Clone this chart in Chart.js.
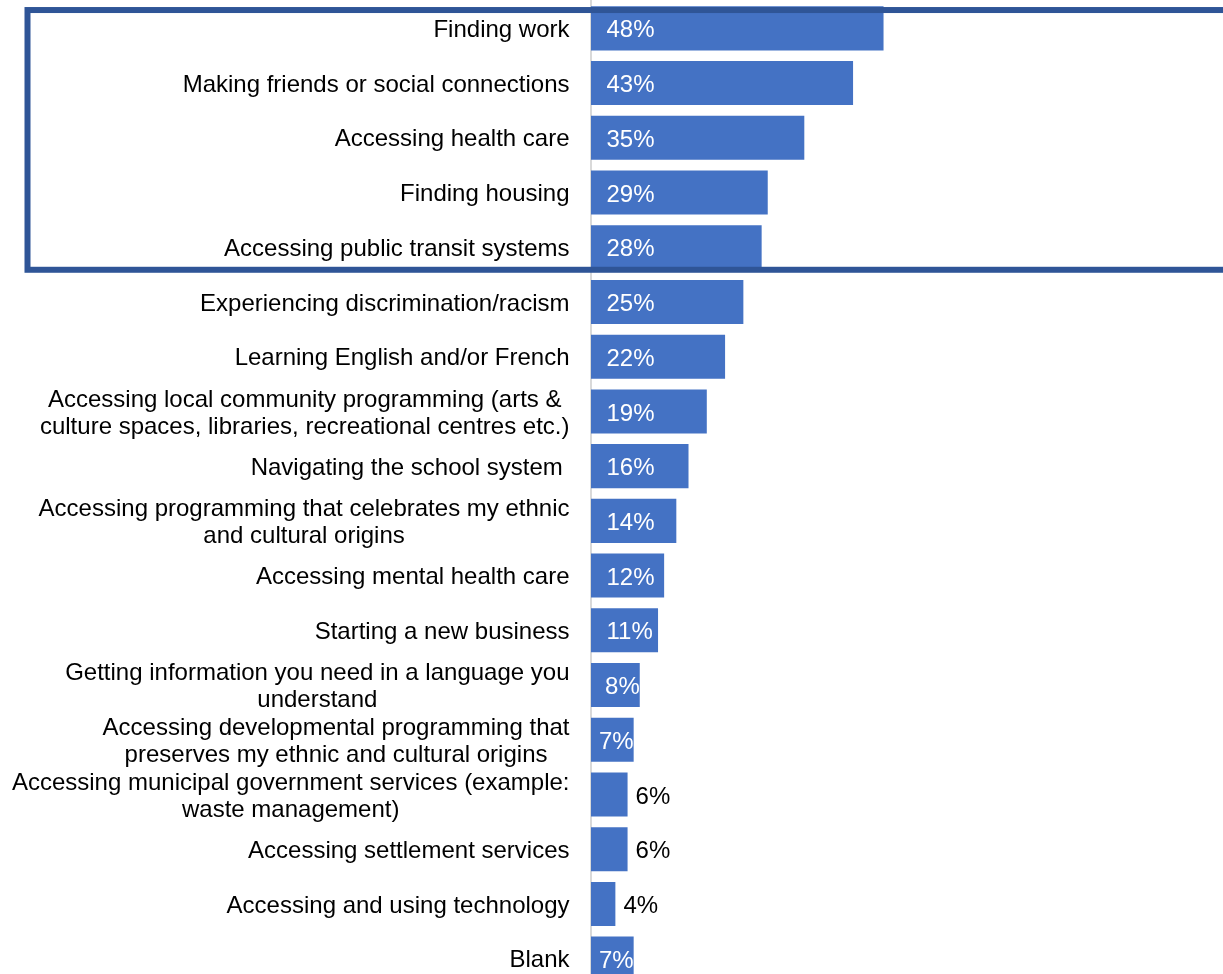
<!DOCTYPE html>
<html>
<head>
<meta charset="utf-8">
<script src="https://cdn.jsdelivr.net/npm/chart.js@4/dist/chart.umd.min.js"></script>
<style>
  html, body { margin: 0; padding: 0; background: #fff; overflow: hidden; }
  #wrap { width: 1223px; height: 986px; }
</style>
</head>
<body>
<div id="wrap"><canvas id="mycanvas"></canvas></div>
<script>
// categories (multi-line labels are arrays of lines)
var categories = [
  "Finding work",
  "Making friends or social connections",
  "Accessing health care",
  "Finding housing",
  "Accessing public transit systems",
  "Experiencing discrimination/racism",
  "Learning English and/or French",
  ["Accessing local community programming (arts &", "culture spaces, libraries, recreational centres etc.)"],
  "Navigating the school system ",
  ["Accessing programming that celebrates my ethnic", "and cultural origins"],
  "Accessing mental health care",
  "Starting a new business",
  ["Getting information you need in a language you", "understand"],
  ["Accessing developmental programming that", "preserves my ethnic and cultural origins"],
  ["Accessing municipal government services (example:", "waste management)"],
  "Accessing settlement services",
  "Accessing and using technology",
  "Blank"
];

// percent of respondents
var percents = [48, 43, 35, 29, 28, 25, 22, 19, 16, 14, 12, 11, 8, 7, 6, 6, 4, 7];

// first five rows get the outline box
var highlightRows = [0, 4];

var FONT = '24px "Liberation Sans", Arial, sans-serif';

// category labels: block right-aligned to the axis, lines centred in the block
var categoryLabels = {
  id: 'categoryLabels',
  afterDraw: function(chart) {
    var ctx = chart.ctx;
    var yScale = chart.scales.y;
    var right = chart.chartArea.left - 21.5;
    var lineH = 27;
    ctx.save();
    ctx.font = FONT;
    ctx.fillStyle = '#000';
    ctx.textBaseline = 'middle';
    ctx.textAlign = 'center';
    categories.forEach(function(label, i) {
      var lines = Array.isArray(label) ? label : [label];
      var widest = 0;
      lines.forEach(function(l) { widest = Math.max(widest, ctx.measureText(l).width); });
      var cx = right - widest / 2;
      var cy = yScale.getPixelForValue(i) + 2;
      var y0 = cy - (lines.length - 1) * lineH / 2;
      lines.forEach(function(l, k) {
        ctx.fillText(l, cx, y0 + k * lineH);
      });
    });
    ctx.restore();
  }
};

// value labels: white inside the bar, black just outside for short bars
var valueLabels = {
  id: 'valueLabels',
  afterDatasetsDraw: function(chart) {
    var ctx = chart.ctx;
    var meta = chart.getDatasetMeta(0);
    ctx.save();
    ctx.font = FONT;
    ctx.textBaseline = 'middle';
    ctx.textAlign = 'left';
    meta.data.forEach(function(bar, i) {
      var v = percents[i];
      var txt = v + '%';
      var w = ctx.measureText(txt).width;
      var x;
      if (v >= 7) {
        ctx.fillStyle = '#fff';
        x = Math.min(bar.base + 15.5, bar.x - w);
      } else {
        ctx.fillStyle = '#000';
        x = bar.x + 8;
      }
      ctx.fillText(txt, x, bar.y + 2.5);
    });
    ctx.restore();
  }
};

// dark outline around the top rows
var highlightBox = {
  id: 'highlightBox',
  afterDraw: function(chart) {
    var ctx = chart.ctx;
    var meta = chart.getDatasetMeta(0);
    var first = meta.data[highlightRows[0]];
    var last = meta.data[highlightRows[1]];
    var top = first.y - first.height / 2 + 3.7;
    var bottom = last.y + last.height / 2 + 0.5;
    ctx.save();
    ctx.strokeStyle = '#2F5597';
    ctx.lineWidth = 6;
    ctx.strokeRect(27.5, top, chart.width + 20, bottom - top);
    ctx.restore();
  }
};

var chartdata = {
  labels: categories,
  datasets: [
    {
      label: "Percent",
      backgroundColor: "#4472C4",
      borderWidth: 0,
      barPercentage: 0.805,
      categoryPercentage: 1,
      data: percents
    }
  ]
};

var ctx = document.getElementById('mycanvas');

var BarGraph = new Chart(ctx, {
  type: 'bar',
  data: chartdata,
  plugins: [valueLabels, categoryLabels, highlightBox],
  options: {
    indexAxis: 'y',
    responsive: true,
    maintainAspectRatio: false,
    animation: false,
    layout: { padding: { top: 1, right: 0, bottom: 0, left: 0 } },
    plugins: {
      legend: { display: false },
      tooltip: { enabled: false }
    },
    scales: {
      x: {
        display: false,
        min: 0,
        max: 103.7
      },
      y: {
        grid: { display: false },
        ticks: { display: false },
        border: { display: true, color: '#d9d9d9', width: 2 },
        afterFit: function(scale) { scale.width = 591; }
      }
    }
  }
});
</script>
</body>
</html>
